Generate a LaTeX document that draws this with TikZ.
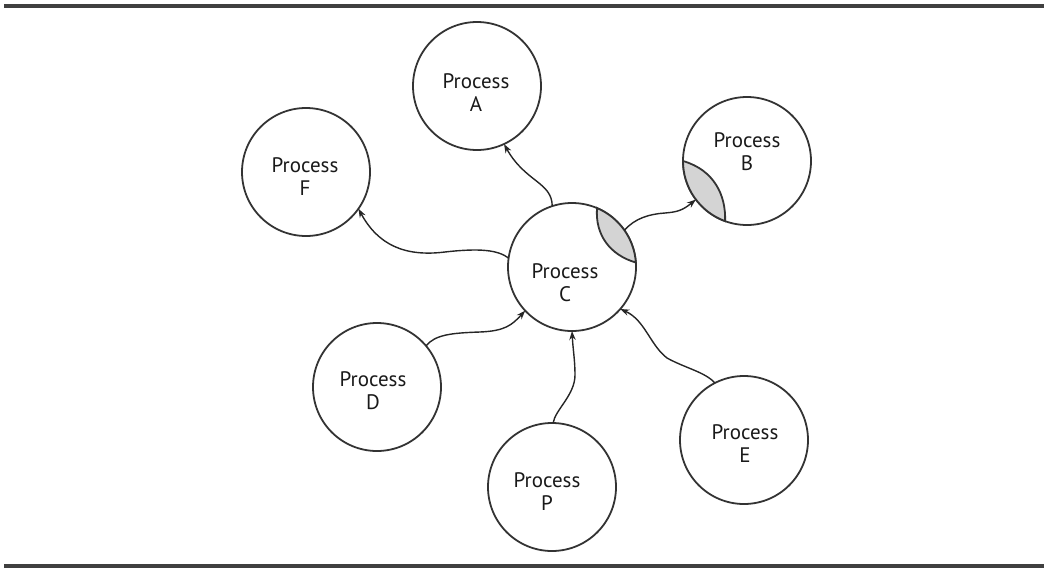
\documentclass[tikz,border=0pt]{standalone}
\usepackage{fontspec}
\setmainfont{PT Sans}
\usetikzlibrary{arrows.meta}
\begin{document}
\begin{tikzpicture}[x=0.5pt,y=-0.5pt,
  proc/.style={circle,draw=black!80,line width=0.9pt,minimum size=64pt,inner sep=0pt,outer sep=0pt},
  ptext/.style={align=center,font=\fontsize{10.5}{11.5}\selectfont,inner sep=0pt,text=black!90},
  flow/.style={draw=black!85,line width=0.7pt,-{Stealth[length=4.5pt,width=3.2pt]}},
  lens/.style={fill=black!17,draw=black!80,line width=0.9pt},
  rulestroke/.style={line width=1.8pt,draw=black!75}]
\useasboundingbox (0,0) rectangle (1049,573);

% top and bottom rules
\coordinate (topL) at (4,6);
\coordinate (topR) at (1044,6);
\coordinate (botL) at (4,566);
\coordinate (botR) at (1044,566);
\draw[rulestroke] (topL) -- (topR);
\draw[rulestroke] (botL) -- (botR);

% processes
\node[proc] (A) at (477,86) {};
\node[proc] (F) at (306,172) {};
\node[proc] (B) at (747,161) {};
\node[proc] (C) at (572,267) {};
\node[proc] (D) at (377,387) {};
\node[proc] (P) at (552,487) {};
\node[proc] (E) at (744,440) {};

\node[ptext] (tA) at (476,93) {Process\\A};
\node[ptext] (tF) at (305,177) {Process\\F};
\node[ptext] (tB) at (747,152) {Process\\B};
\node[ptext] (tC) at (565,283) {Process\\C};
\node[ptext] (tD) at (373,391) {Process\\D};
\node[ptext] (tP) at (547,492) {Process\\P};
\node[ptext] (tE) at (745,444) {Process\\E};

% shared regions
\draw[lens] (C.67) arc[start angle=67,end angle=4,radius=32pt]
  .. controls (610,255) and (595,235) .. (C.67) -- cycle;
\draw[lens] (B.180) arc[start angle=180,end angle=250,radius=32pt]
  .. controls (726,195) and (714,170) .. (B.180) -- cycle;

% flows
\draw[flow] (C.108) .. controls (552,182) and (525,182) .. (A.-65);
\draw[flow] (C.172) .. controls (498,250) and (480,248) .. (445,252)
  .. controls (405,257) and (378,245) .. (F.-35);
\draw[flow] (C.35) .. controls (635,218) and (650,214) .. (665,213)
  .. controls (678,212) and (683,210) .. (B.-143);
\draw[flow] (D.40) .. controls (435,335) and (450,333) .. (480,332)
  .. controls (505,331) and (512,325) .. (C.-137);
\draw[flow] (P.89) .. controls (555,410) and (575,395) .. (575,375)
  .. controls (575,360) and (573,350) .. (C.-90);
\draw[flow] (E.117) .. controls (705,372) and (685,368) .. (667,358)
  .. controls (650,345) and (645,320) .. (C.-41);
\end{tikzpicture}
\end{document}
